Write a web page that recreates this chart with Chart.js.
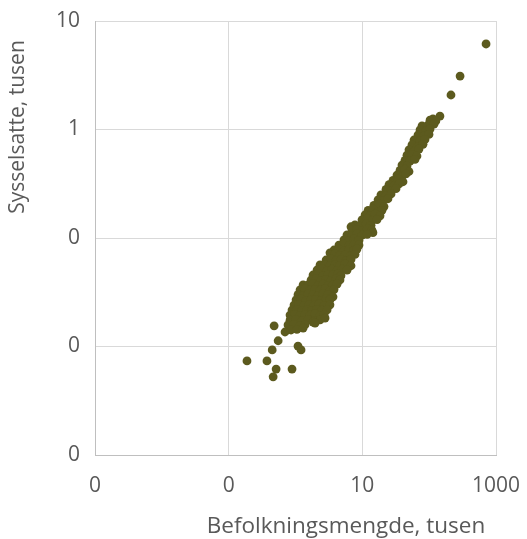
<!DOCTYPE html>
<html>
<head>
<meta charset="utf-8">
<script src="https://cdn.jsdelivr.net/npm/chart.js@4.4.1/dist/chart.umd.min.js"></script>
<style>
  html, body { margin: 0; padding: 0; background: #fff; }
  #wrap { width: 527px; height: 539px; }
</style>
</head>
<body>
<div id="wrap"><canvas id="scatterChart"></canvas></div>
<script>
// Befolkningsmengde (tusen) and sysselsatte (tusen), one entry per kommune
const befolkning = [
  710, 290, 212, 145, 114, 103, 126, 78.2, 96.1, 118,
  73.0, 89.7, 103, 68.0, 83.7, 99.4, 59.3, 73.0, 86.7, 55.3,
  68.0, 80.9, 49.9, 59.3, 70.4, 46.6, 55.3, 65.7, 43.5, 51.7,
  61.4, 39.2, 46.6, 36.6, 43.5, 49.9, 33.0, 39.2, 45.0, 28.8,
  34.2, 40.6, 25.1, 29.8, 35.4, 22.6, 26.9, 31.9, 19.0, 22.6,
  26.9, 17.2, 20.4, 24.2, 14.9, 17.8, 21.1, 12.2, 14.4, 17.2,
  19.7, 11.0, 13.0, 15.5, 18.4, 9.89, 11.8, 13.9, 16.6, 7.77,
  9.23, 11.4, 13.5, 6.77, 7.01, 8.32, 9.89, 11.8, 13.9, 14.4,
  5.90, 7.01, 8.32, 9.89, 11.8, 5.31, 6.32, 7.51, 8.92, 4.47,
  5.31, 6.32, 7.51, 8.92, 3.77, 4.47, 5.31, 6.32, 7.51, 8.32,
  3.28, 3.40, 3.90, 4.63, 5.51, 6.55, 7.77, 2.87, 3.40, 4.04,
  4.79, 5.70, 6.77, 2.33, 2.77, 3.28, 3.90, 4.63, 5.51, 6.77,
  2.10, 2.50, 2.97, 3.52, 4.18, 4.96, 5.90, 1.83, 2.18, 2.59,
  3.07, 3.64, 4.32, 4.79, 1.71, 2.03, 2.41, 2.87, 3.40, 4.04,
  4.63, 1.30, 1.54, 1.83, 2.18, 2.59, 3.07, 3.64, 4.18, 1.17,
  1.39, 1.65, 1.96, 2.33, 2.77, 3.28, 3.77, 1.09, 1.30, 1.54,
  1.83, 2.18, 2.59, 3.07, 3.64, 1.02, 1.21, 1.44, 1.71, 2.03,
  2.41, 2.87, 3.28, 0.950, 1.13, 1.34, 1.60, 1.90, 2.25, 2.68,
  3.28, 0.887, 1.05, 1.25, 1.49, 1.77, 2.10, 2.50, 2.97, 0.828,
  0.984, 1.17, 1.39, 1.65, 1.96, 2.33, 2.68, 0.828, 1.02, 1.25,
  1.54, 1.90, 2.33, 2.77, 1.83, 0.773, 0.950, 1.17, 1.39, 0.697,
  0.857, 1.05, 1.30, 0.479, 0.550, 0.448, 1.09, 1.21, 0.188, 0.374,
  0.513, 0.463, 0.887, 1.96
];
const sysselsatte = [
  6.14, 3.11, 2.08, 1.33, 1.25, 1.22, 1.20, 1.08, 1.10, 1.12,
  0.99, 0.97, 1.01, 0.89, 0.87, 0.90, 0.80, 0.78, 0.81, 0.72,
  0.70, 0.73, 0.65, 0.63, 0.66, 0.58, 0.59, 0.57, 0.52, 0.51,
  0.53, 0.47, 0.46, 0.42, 0.43, 0.41, 0.38, 0.37, 0.39, 0.34,
  0.35, 0.33, 0.31, 0.30, 0.315, 0.28, 0.27, 0.285, 0.25, 0.245,
  0.255, 0.225, 0.22, 0.23, 0.20, 0.205, 0.195, 0.18, 0.185, 0.175,
  0.18, 0.163, 0.16, 0.166, 0.16, 0.147, 0.15, 0.144, 0.148, 0.132,
  0.13, 0.135, 0.131, 0.127, 0.119, 0.12, 0.117, 0.121, 0.118, 0.112,
  0.107, 0.105, 0.109, 0.106, 0.108, 0.096, 0.094, 0.098, 0.095, 0.086,
  0.088, 0.085, 0.087, 0.086, 0.0775, 0.079, 0.076, 0.078, 0.077, 0.079,
  0.073, 0.0697, 0.071, 0.069, 0.070, 0.068, 0.0705, 0.0627, 0.064, 0.062,
  0.063, 0.0615, 0.0635, 0.0564, 0.057, 0.0555, 0.057, 0.056, 0.0575, 0.0555,
  0.0507, 0.052, 0.050, 0.0515, 0.050, 0.0515, 0.0505, 0.0456, 0.047, 0.045,
  0.046, 0.0455, 0.0465, 0.045, 0.041, 0.042, 0.0405, 0.0415, 0.0405, 0.042,
  0.041, 0.0369, 0.037, 0.038, 0.0365, 0.0375, 0.0365, 0.037, 0.0375, 0.0332,
  0.034, 0.033, 0.0335, 0.033, 0.034, 0.0325, 0.0335, 0.030, 0.0295, 0.0305,
  0.0299, 0.0295, 0.0305, 0.030, 0.0287, 0.0269, 0.0275, 0.0265, 0.027, 0.0272,
  0.0265, 0.0275, 0.027, 0.0241, 0.0245, 0.0238, 0.0243, 0.024, 0.0246, 0.0238,
  0.0242, 0.0217, 0.022, 0.0214, 0.0219, 0.0215, 0.022, 0.0216, 0.0218, 0.0195,
  0.0198, 0.0193, 0.0197, 0.0194, 0.0199, 0.0193, 0.0196, 0.0175, 0.0178, 0.0172,
  0.0177, 0.0174, 0.0176, 0.0183, 0.0168, 0.0158, 0.016, 0.0156, 0.0159, 0.0136,
  0.0142, 0.0144, 0.0148, 0.0155, 0.0113, 0.00929, 0.0101, 0.00929, 0.00737, 0.00737,
  0.00620, 0.00525, 0.00620, 0.0164
];

// Axis ticks (Excel number format "0" shows the small ones as 0)
const xTickValues = [0.001, 0.1, 10, 1000];
const xTickLabels = ['0', '0', '10', '1000'];
const yTickValues = [0.001, 0.01, 0.1, 1, 10];
const yTickLabels = ['0', '0', '0', '1', '10'];

const xTitle = 'Befolkningsmengde, tusen';
const yTitle = 'Sysselsatte, tusen';

const points = befolkning.map((b, i) => ({ x: b, y: sysselsatte[i] }));

const textColor = '#595959';
const fontFamily = '"Open Sans", "Noto Sans", sans-serif';

// Axis titles sit off-centre in the original, so draw them by hand
const axisTitles = {
    id: 'axisTitles',
    afterDraw(chart) {
        const { ctx, chartArea } = chart;
        ctx.save();
        ctx.fillStyle = textColor;
        ctx.textAlign = 'center';
        ctx.textBaseline = 'middle';
        ctx.font = '22.5px ' + fontFamily;
        ctx.fillText(xTitle, chartArea.right - 150, chartArea.bottom + 72);
        ctx.font = '21px ' + fontFamily;
        ctx.translate(18, chartArea.top + 106);
        ctx.rotate(-Math.PI / 2);
        ctx.fillText(yTitle, 0, 0);
        ctx.restore();
    }
};

const ctx = document.getElementById('scatterChart').getContext('2d');
new Chart(ctx, {
    type: 'scatter',
    data: {
        datasets: [{
            label: 'Kommuner',
            data: points,
            backgroundColor: '#5c5a1e',
            borderWidth: 0,
            pointRadius: 4.4,
            pointHoverRadius: 4.4
        }]
    },
    options: {
        responsive: true,
        maintainAspectRatio: false,
        animation: false,
        layout: {
            padding: { top: 21, right: 31, bottom: 0, left: 0 }
        },
        plugins: {
            legend: { display: false },
            tooltip: { enabled: false }
        },
        scales: {
            x: {
                type: 'logarithmic',
                min: 0.001,
                max: 1000,
                afterBuildTicks: scale => {
                    scale.ticks = xTickValues.map(v => ({ value: v }));
                },
                afterFit: scale => {
                    scale.height = 84;
                    scale.paddingLeft = 0;
                    scale.paddingRight = 0;
                },
                ticks: {
                    color: textColor,
                    font: { family: fontFamily, size: 21 },
                    padding: 18,
                    maxRotation: 0,
                    autoSkip: false,
                    callback: (value, index) => xTickLabels[index]
                },
                grid: { color: '#d9d9d9', drawTicks: false },
                border: { color: '#bfbfbf' }
            },
            y: {
                type: 'logarithmic',
                min: 0.001,
                max: 10,
                afterBuildTicks: scale => {
                    scale.ticks = yTickValues.map(v => ({ value: v }));
                },
                afterFit: scale => {
                    scale.width = 95;
                    scale.paddingTop = 0;
                    scale.paddingBottom = 0;
                },
                ticks: {
                    color: textColor,
                    font: { family: fontFamily, size: 21 },
                    padding: 15,
                    autoSkip: false,
                    callback: (value, index) => yTickLabels[index]
                },
                grid: { color: '#d9d9d9', drawTicks: false },
                border: { color: '#bfbfbf' }
            }
        }
    },
    plugins: [axisTitles]
});
</script>
</body>
</html>
